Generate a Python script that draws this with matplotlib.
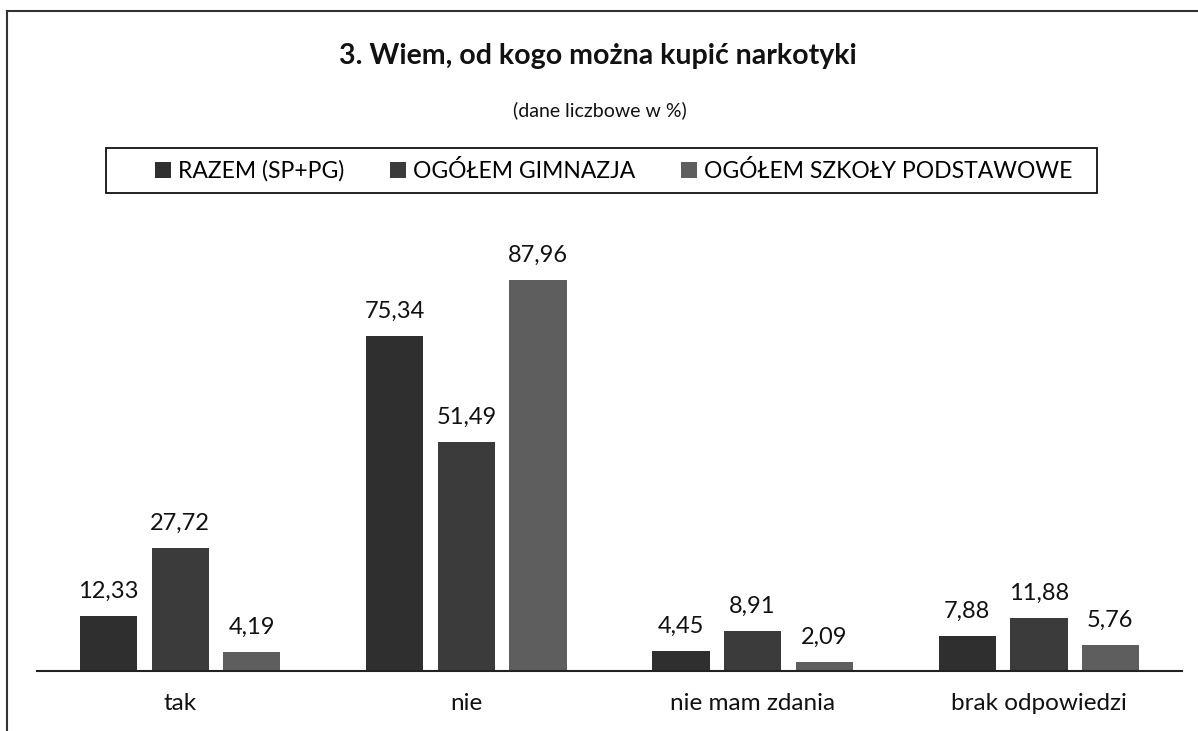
import numpy as np
import matplotlib
matplotlib.use("Agg")
import matplotlib.pyplot as plt
from matplotlib.patches import Patch, Rectangle
from matplotlib.lines import Line2D

plt.rcParams['font.family'] = ['Lato', 'DejaVu Sans']

categories = ["tak", "nie", "nie mam zdania", "brak odpowiedzi"]
series_names = ["RAZEM (SP+PG)", "OGÓŁEM GIMNAZJA", "OGÓŁEM SZKOŁY PODSTAWOWE"]
razem = [12.33, 75.34, 4.45, 7.88]
gimnazja = [27.72, 51.49, 8.91, 11.88]
podstawowe = [4.19, 87.96, 2.09, 5.76]
values = [razem, gimnazja, podstawowe]
colors = ["#2f2f2f", "#3b3b3b", "#5e5e5e"]

W, H = 1198, 731
fig = plt.figure(figsize=(W / 100, H / 100), dpi=100)

# axes placed in pixel terms of the reference
left, right, base, top = 37, 1182, 671, 226.5
ax = fig.add_axes([left / W, (H - base) / H, (right - left) / W, (base - top) / H])

x = np.arange(len(categories))
bw = 0.2
gap = 0.05
for i, (vals, col) in enumerate(zip(values, colors)):
    pos = x + (i - 1) * (bw + gap)
    bars = ax.bar(pos, vals, width=bw, color=col, label=series_names[i], zorder=2)
    for b, v in zip(bars, vals):
        ax.text(b.get_x() + b.get_width() / 2, v + 3.2, f"{v:.2f}".replace(".", ","),
                ha="center", va="bottom", fontsize=17, color="#111111")

ax.set_xlim(-0.5, len(categories) - 0.5)
ax.set_ylim(0, 100)
ax.set_xticks(x)
ax.set_xticklabels(categories, fontsize=17.5, color="#111111")
ax.tick_params(axis="x", length=0, pad=16)
ax.set_yticks([])
for s in ["left", "right", "top"]:
    ax.spines[s].set_visible(False)
ax.spines["bottom"].set_color("#222222")
ax.spines["bottom"].set_linewidth(1.5)
ax.patch.set_alpha(0)

# outer frame (left and top edges visible in the reference)
fig.add_artist(Line2D([7 / W, 7 / W], [0, 1 - 11 / H], transform=fig.transFigure,
                      color="#333333", linewidth=1.5))
fig.add_artist(Line2D([7 / W, 1], [1 - 11 / H, 1 - 11 / H], transform=fig.transFigure,
                      color="#333333", linewidth=1.5))

fig.text(598 / W, 1 - 56 / H, "3. Wiem, od kogo można kupić narkotyki",
         ha="center", va="center", fontsize=20.5, fontweight="bold", color="#111111")
fig.text(600 / W, 1 - 110 / H, "(dane liczbowe w %)",
         ha="center", va="center", fontsize=14, color="#111111")

# legend box drawn separately (padding is uneven in the reference)
fig.add_artist(Rectangle((106 / W, 1 - 193 / H), (1097 - 106) / W, 45 / H,
                         transform=fig.transFigure, fill=False, edgecolor="#111111",
                         linewidth=1.3))
handles = [Patch(facecolor=c, edgecolor="none") for c in colors]
leg = fig.legend(handles, series_names, loc="center", bbox_to_anchor=(614 / W, 1 - 171 / H),
                 ncol=3, fontsize=16.5, frameon=False,
                 handlelength=0.7, handleheight=0.7, handletextpad=0.3, columnspacing=2.0)

fig.savefig("out.png", dpi=100, facecolor="white")
